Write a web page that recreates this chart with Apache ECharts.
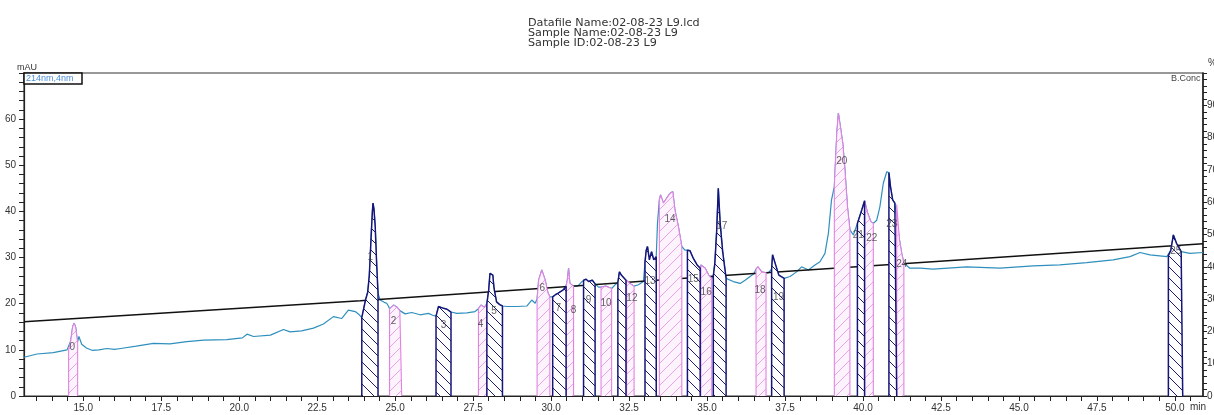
<!DOCTYPE html>
<html><head><meta charset="utf-8">
<script src="https://cdn.jsdelivr.net/npm/echarts@6/dist/echarts.min.js"></script>
<style>html,body{margin:0;padding:0;background:#fff;overflow:hidden;}#c{width:1214px;height:415px;}</style>
</head><body><div id="c"></div>
<script>
const titleLines = ['Datafile Name:02-08-23 L9.lcd', 'Sample Name:02-08-23 L9', 'Sample ID:02-08-23 L9'];
const detectorName = '214nm,4nm';

// chromatogram trace (min, mAU)
const traceT = [13.1,13.52,14.04,14.48,14.53,14.6,14.66,14.71,14.76,14.8,14.82,14.86,14.95,15.1,15.28,15.5,15.76,16.0,16.2,16.7,17.25,17.78,18.32,18.86,19.6,20.1,20.25,20.46,21.0,21.42,21.63,22.0,22.38,22.7,23.02,23.29,23.5,23.72,23.85,
23.93,24.05,24.12,24.17,24.2,24.24,24.27,24.29,24.32,24.36,24.41,24.45,24.52,24.65,24.73,24.79,
24.82,24.95,25.05,25.15,25.21,25.32,25.53,25.8,26.07,26.2,
26.31,26.39,26.55,26.66,26.79,26.98,27.3,27.56,
27.67,27.75,27.86,27.94,28.0,28.04,28.09,28.13,28.17,28.25,28.35,28.44,28.58,28.9,29.22,29.38,29.49,
29.55,29.6,29.7,29.81,29.9,29.96,
30.05,30.15,30.23,30.39,30.48,30.52,30.56,30.6,30.72,30.85,30.99,
31.04,31.12,31.2,31.32,31.41,31.52,31.6,31.75,31.94,32.05,
32.14,32.19,32.25,32.31,32.4,32.42,32.54,32.66,32.8,32.96,
33.01,33.05,33.09,33.15,33.22,33.29,33.37,33.41,
33.47,33.51,33.6,33.7,33.81,33.9,33.97,34.08,34.19,34.29,
34.37,34.45,34.56,34.68,34.78,34.8,34.94,35.05,35.15,
35.2,35.25,35.31,35.36,35.42,35.5,35.61,35.63,35.84,36.06,36.22,36.38,36.5,
36.57,36.63,36.75,36.89,36.96,37.07,37.1,37.18,37.3,37.47,
37.66,37.87,38.03,38.25,38.46,38.62,38.78,38.89,38.99,
39.08,39.16,39.21,39.26,39.35,39.42,39.5,39.58,39.69,
39.82,39.96,40.05,40.15,40.25,40.33,40.44,40.54,40.65,40.76,
40.83,40.88,40.95,41.02,41.08,41.17,41.24,41.31,
41.5,41.83,42.25,43.32,44.39,45.46,46.31,47.17,48.02,48.56,48.88,49.2,49.74,
49.79,49.87,49.95,50.05,50.2,50.25,50.48,50.9];
const traceV = [8.4,9.1,9.4,10.0,10.1,12.0,15.0,15.8,14.8,12.5,11.8,12.9,11.2,10.4,9.9,10.0,10.3,10.1,10.3,10.8,11.4,11.3,11.8,12.1,12.2,12.6,13.4,12.9,13.2,14.4,13.9,14.1,14.7,15.6,17.2,16.8,18.6,18.3,17.6,
17.0,20.8,22.5,26.0,30.2,36.0,40.0,41.8,40.5,36.7,28.0,22.3,20.8,20.3,20.1,19.4,
18.9,19.7,19.3,18.5,18.1,17.8,18.1,17.6,17.9,17.5,
17.3,19.4,19.0,18.8,18.2,17.9,18.0,18.3,
18.9,19.7,19.2,20.0,23.0,26.6,27.0,26.2,23.3,20.4,19.8,19.5,19.4,19.4,19.5,20.8,20.1,
21.0,25.1,27.3,25.1,22.3,21.5,
21.5,22.0,22.3,23.0,23.8,25.1,27.7,24.4,23.8,23.8,24.8,
25.1,25.3,24.8,25.1,24.3,23.6,23.6,23.8,23.3,24.1,
24.6,26.9,26.2,25.9,25.1,25.1,24.3,23.8,24.1,24.8,
29.0,31.6,32.4,29.5,31.3,29.5,30.2,37.4,
42.5,43.6,41.8,42.8,43.9,44.3,40.3,36.7,32.4,31.6,
31.6,31.5,29.8,28.4,27.7,28.4,27.7,26.2,25.5,
26.0,28.8,36.0,45.0,37.4,31.3,25.5,25.1,24.8,24.4,25.1,25.9,26.5,
27.5,28.0,26.9,26.7,26.7,27.5,30.6,28.8,26.2,25.5,
25.9,26.9,28.0,27.3,28.4,29.1,30.9,35.3,42.5,
45.4,56.9,61.3,61.6,54.8,49.0,41.0,36.0,34.9,
37.4,40.3,42.3,39.6,37.8,37.4,38.1,41.0,46.1,48.6,
48.4,45.4,42.5,41.8,41.5,33.8,30.9,28.8,
27.7,27.7,27.5,28.0,27.7,28.2,28.4,28.9,29.5,30.2,31.1,30.6,30.2,
30.4,31.6,34.9,33.1,31.3,31.0,30.9,31.1];

// B.Conc gradient (min, %)
const gradT = [13.1, 23.88, 29.97, 35.42, 41.5, 50.9];
const gradPct = [23.0, 29.5, 33.5, 37.2, 41.1, 47.1];

// integrated peaks
const peakNames = [0,1,2,3,4,5,6,7,8,9,10,11,12,13,14,15,16,17,18,19,20,21,22,23,24,25];
const peakStart = [14.53,23.93,24.82,26.31,27.67,27.94,29.55,30.05,30.48,31.04,31.6,32.14,32.42,33.01,33.47,34.37,34.8,35.2,36.57,37.07,39.08,39.82,40.05,40.83,41.08,49.79];
const peakEnd   = [14.82,24.45,25.21,26.79,27.94,28.44,29.96,30.48,30.72,31.41,31.94,32.4,32.66,33.37,34.19,34.78,35.15,35.61,36.89,37.47,39.58,40.05,40.33,41.08,41.31,50.25];

// peak number labels
const labelNames = ['0','1','2','3','4','5','6','7','8','9','10','12','13','14','15','16','17','18','19','20','21','22','23','24','25'];
const labelT = [14.65,24.2,24.95,26.55,27.74,28.17,29.72,30.23,30.72,31.2,31.76,32.59,33.17,33.81,34.56,34.97,35.47,36.7,37.29,39.32,39.85,40.28,40.92,41.24,50.03];
const labelV = [10.6,30.0,16.1,15.4,15.5,18.4,23.3,19.0,18.6,20.8,20.2,21.2,24.8,38.3,25.3,22.4,36.7,23.0,21.5,50.8,34.9,34.2,37.3,28.6,31.3];

// axis ticks
const xTickLabels = [15,17.5,20,22.5,25,27.5,30,32.5,35,37.5,40,42.5,45,47.5,50];
const yLeftLabels = [0,10,20,30,40,50,60];
const yRightLabels = [0,10,20,30,40,50,60,70,80,90];

const FONT = "'Liberation Sans', Arial, sans-serif";
const TFONT = "'DejaVu Sans', 'Liberation Sans', sans-serif";
const PINK = '#e283e2', PINK_H = '#eba2eb', NAVY = '#15157a', NAVY_H = '#1c1c6e', TRACE = '#2f8fbd';

function hatch(color, forward, bg) {
  const s = 11;
  const c = document.createElement('canvas');
  c.width = s; c.height = s;
  const g = c.getContext('2d');
  if (bg) { g.fillStyle = bg; g.fillRect(0, 0, s, s); }
  g.strokeStyle = color; g.lineWidth = 1;
  g.beginPath();
  if (forward) {
    g.moveTo(0, s); g.lineTo(s, 0);
    g.moveTo(-2, 2); g.lineTo(2, -2);
    g.moveTo(s - 2, s + 2); g.lineTo(s + 2, s - 2);
  } else {
    g.moveTo(0, 0); g.lineTo(s, s);
    g.moveTo(-2, s - 2); g.lineTo(2, s + 2);
    g.moveTo(s - 2, -2); g.lineTo(s + 2, 2);
  }
  g.stroke();
  return c;
}
const pinkPat = hatch(PINK_H, true, '#fdf3fd');
const navyPat = hatch(NAVY_H, false, '#ffffff');

const xMinor = []; for (let v = 13.5; v <= 50.51; v += 0.5) xMinor.push(+v.toFixed(1));
const yLeftTicks = []; for (let v = 0; v <= 70; v += 2) yLeftTicks.push(v);
const yRightTicks = []; for (let v = 0; v <= 100; v += 2) yRightTicks.push(v);

const traceData = traceT.map((t, i) => [t, traceV[i]]);
const series = [
  { type: 'line', name: 'trace', data: traceData, showSymbol: false, symbol: 'none',
    lineStyle: { color: TRACE, width: 1.2 }, z: 2, silent: true },
  { type: 'line', name: 'B.Conc', yAxisIndex: 1, data: gradT.map((t, i) => [t, gradPct[i]]),
    showSymbol: false, symbol: 'none', lineStyle: { color: '#111', width: 1.5 }, z: 3, silent: true }
];
peakNames.forEach((n, k) => {
  const pts = [[peakStart[k], 0]];
  traceT.forEach((t, i) => { if (t >= peakStart[k] - 1e-9 && t <= peakEnd[k] + 1e-9) pts.push([t, traceV[i]]); });
  pts.push([peakEnd[k], 0]);
  const odd = n % 2 === 1;
  series.push({
    type: 'line', name: 'peak' + n, data: pts, showSymbol: false, symbol: 'none', silent: true,
    lineStyle: { color: odd ? NAVY : PINK, width: odd ? 1.5 : 1.1 },
    areaStyle: { color: { image: odd ? navyPat : pinkPat, repeat: 'repeat' }, opacity: 1 },
    z: odd ? 5 : 4
  });
});
series.push({
  type: 'scatter', name: 'labels', symbolSize: 1, itemStyle: { color: 'rgba(0,0,0,0)' }, z: 10, silent: true,
  data: labelNames.map((n, i) => ({ name: n, value: [labelT[i], labelV[i]] })),
  label: { show: true, position: 'inside', formatter: '{b}', color: '#3a3a3a', fontSize: 10, fontFamily: FONT }
});

const axisCol = '#222';
const option = {
  animation: false,
  backgroundColor: '#fff',
  grid: { left: 24, right: 11, top: 73, bottom: 19, show: true, borderColor: '#333', borderWidth: 1.2,
          containLabel: false, outerBoundsMode: 'none' },
  xAxis: {
    type: 'value', min: 13.1, max: 50.9,
    axisLine: { show: true, lineStyle: { color: axisCol, width: 1.2 } },
    axisTick: { show: true, customValues: xMinor, length: 5, inside: false, lineStyle: { color: axisCol } },
    axisLabel: { customValues: xTickLabels, formatter: v => v.toFixed(1), color: '#333', fontSize: 10, fontFamily: FONT, margin: 7, hideOverlap: false },
    splitLine: { show: false }
  },
  yAxis: [
    { type: 'value', min: 0, max: 70, position: 'left',
      axisLine: { show: true, lineStyle: { color: axisCol, width: 1.2 } },
      axisTick: { show: true, customValues: yLeftTicks, length: 5, lineStyle: { color: axisCol } },
      axisLabel: { customValues: yLeftLabels, color: '#333', fontSize: 10, fontFamily: FONT, margin: 8 },
      splitLine: { show: false } },
    { type: 'value', min: 0, max: 100, position: 'right',
      axisLine: { show: true, lineStyle: { color: axisCol, width: 1.5 } },
      axisTick: { show: true, customValues: yRightTicks, length: 4, lineStyle: { color: axisCol } },
      axisLabel: { customValues: yRightLabels, color: '#333', fontSize: 10, fontFamily: FONT, margin: 4 },
      splitLine: { show: false } }
  ],
  graphic: [
    { type: 'text', left: 528, top: 18, style: { text: titleLines.join('\n'), font: '11.2px ' + TFONT, fill: '#333', lineHeight: 10 } },
    { type: 'text', left: 17, top: 63, style: { text: 'mAU', font: '9px ' + FONT, fill: '#333' } },
    { type: 'rect', shape: { x: 24, y: 73, width: 58, height: 11 }, style: { fill: '#fff', stroke: '#111', lineWidth: 1.5 }, z: 20 },
    { type: 'text', left: 26, top: 74, style: { text: detectorName, font: '9px ' + FONT, fill: '#4a90d9' }, z: 21 },
    { type: 'text', left: 1171, top: 74, style: { text: 'B.Conc', font: '9px ' + FONT, fill: '#444' }, z: 21 },
    { type: 'text', left: 1208, top: 58, style: { text: '%', font: '10px ' + FONT, fill: '#333' } },
    { type: 'text', left: 1190, top: 402, style: { text: 'min', font: '10px ' + FONT, fill: '#333' } }
  ],
  series: series
};
const chart = echarts.init(document.getElementById('c'), null, { renderer: 'canvas' });
chart.setOption(option);
</script>
</body></html>
